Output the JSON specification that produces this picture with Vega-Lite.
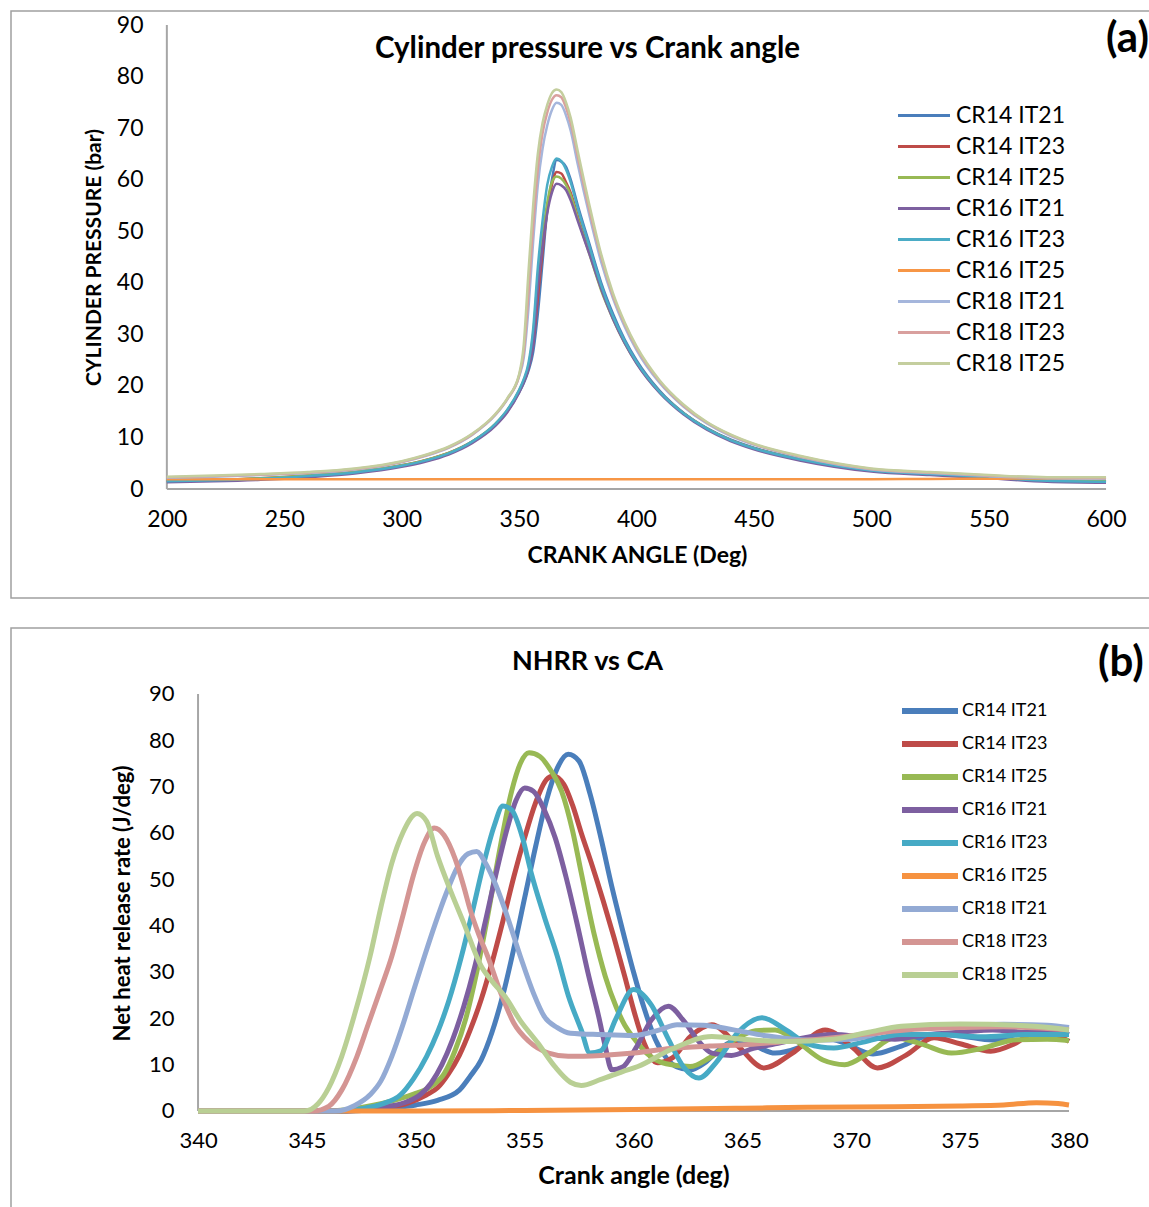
{
  "$schema": "https://vega.github.io/schema/vega-lite/v6.json",
  "padding": {"left": 10, "top": 10, "right": 0, "bottom": 0},
  "background": "white",
  "spacing": 28,
  "resolve": {"scale": {"color": "independent"}, "legend": {"color": "independent"}},
  "config": {
    "view": {"stroke": "#a0a0a0", "strokeWidth": 1.5},
    "font": "Lato",
    "axis": {"grid": false, "ticks": false, "tickSize": 0, "domain": false, "labelFont": "Lato", "labelColor": "#000", "titleFont": "Lato", "titleColor": "#000", "titleFontWeight": "bold", "labelFlush": false},
    "legend": {"labelFont": "Lato", "labelColor": "#000", "padding": 0}
  },
  "datasets": {
    "top": [
      {"x":200,"CR14 IT21":1.5,"CR14 IT23":1.6,"CR14 IT25":1.6,"CR16 IT21":1.3,"CR16 IT23":1.5,"CR16 IT25":1.9,"CR18 IT21":2.2,"CR18 IT23":2.3,"CR18 IT25":2.4},
      {"x":220,"CR14 IT21":1.7,"CR14 IT23":1.8,"CR14 IT25":1.8,"CR16 IT21":1.5,"CR16 IT23":1.7,"CR16 IT25":1.9,"CR18 IT21":2.4,"CR18 IT23":2.5,"CR18 IT25":2.6},
      {"x":240,"CR14 IT21":2.0,"CR14 IT23":2.1,"CR14 IT25":2.1,"CR16 IT21":1.8,"CR16 IT23":2.0,"CR16 IT25":1.9,"CR18 IT21":2.7,"CR18 IT23":2.8,"CR18 IT25":2.9},
      {"x":260,"CR14 IT21":2.5,"CR14 IT23":2.6,"CR14 IT25":2.6,"CR16 IT21":2.3,"CR16 IT23":2.5,"CR16 IT25":1.9,"CR18 IT21":3.1,"CR18 IT23":3.2,"CR18 IT25":3.3},
      {"x":280,"CR14 IT21":3.2,"CR14 IT23":3.3,"CR14 IT25":3.3,"CR16 IT21":3.0,"CR16 IT23":3.2,"CR16 IT25":1.9,"CR18 IT21":3.8,"CR18 IT23":3.9,"CR18 IT25":4.0},
      {"x":300,"CR14 IT21":4.5,"CR14 IT23":4.6,"CR14 IT25":4.6,"CR16 IT21":4.3,"CR16 IT23":4.5,"CR16 IT25":1.9,"CR18 IT21":5.2,"CR18 IT23":5.3,"CR18 IT25":5.4},
      {"x":310,"CR14 IT21":5.5,"CR14 IT23":5.6,"CR14 IT25":5.6,"CR16 IT21":5.3,"CR16 IT23":5.5,"CR16 IT25":1.9,"CR18 IT21":6.4,"CR18 IT23":6.5,"CR18 IT25":6.6},
      {"x":320,"CR14 IT21":6.9,"CR14 IT23":7.0,"CR14 IT25":7.0,"CR16 IT21":6.7,"CR16 IT23":6.9,"CR16 IT25":1.9,"CR18 IT21":8.0,"CR18 IT23":8.1,"CR18 IT25":8.2},
      {"x":330,"CR14 IT21":9.1,"CR14 IT23":9.2,"CR14 IT25":9.2,"CR16 IT21":8.9,"CR16 IT23":9.2,"CR16 IT25":1.9,"CR18 IT21":10.5,"CR18 IT23":10.6,"CR18 IT25":10.7},
      {"x":340,"CR14 IT21":12.5,"CR14 IT23":12.6,"CR14 IT25":12.7,"CR16 IT21":12.3,"CR16 IT23":12.7,"CR16 IT25":1.9,"CR18 IT21":14.4,"CR18 IT23":14.5,"CR18 IT25":14.6},
      {"x":345,"CR14 IT21":15.1,"CR14 IT23":15.2,"CR14 IT25":15.3,"CR16 IT21":14.9,"CR16 IT23":15.4,"CR16 IT25":1.9,"CR18 IT21":17.4,"CR18 IT23":17.5,"CR18 IT25":17.6},
      {"x":350,"CR14 IT21":18.7,"CR14 IT23":18.9,"CR14 IT25":19.1,"CR16 IT21":18.7,"CR16 IT23":19.2,"CR16 IT25":1.9,"CR18 IT21":21.8,"CR18 IT23":22.0,"CR18 IT25":22.2},
      {"x":352,"CR14 IT21":20.5,"CR14 IT23":20.8,"CR14 IT25":21.1,"CR16 IT21":20.7,"CR16 IT23":21.3,"CR16 IT25":1.9,"CR18 IT21":25.5,"CR18 IT23":26.5,"CR18 IT25":28.0},
      {"x":354,"CR14 IT21":22.9,"CR14 IT23":23.4,"CR14 IT25":23.9,"CR16 IT21":23.4,"CR16 IT23":24.4,"CR16 IT25":1.9,"CR18 IT21":35,"CR18 IT23":38,"CR18 IT25":42},
      {"x":356,"CR14 IT21":26.5,"CR14 IT23":28,"CR14 IT25":30,"CR16 IT21":28,"CR16 IT23":31,"CR16 IT25":1.9,"CR18 IT21":48,"CR18 IT23":51,"CR18 IT25":55},
      {"x":358,"CR14 IT21":34,"CR14 IT23":37,"CR14 IT25":41,"CR16 IT21":39,"CR16 IT23":43,"CR16 IT25":1.9,"CR18 IT21":59,"CR18 IT23":62,"CR18 IT25":65},
      {"x":360,"CR14 IT21":44,"CR14 IT23":46,"CR14 IT25":49,"CR16 IT21":47,"CR16 IT23":52,"CR16 IT25":1.9,"CR18 IT21":66,"CR18 IT23":69,"CR18 IT25":71},
      {"x":362,"CR14 IT21":54,"CR14 IT23":54,"CR14 IT25":55.5,"CR16 IT21":53.5,"CR16 IT23":59,"CR16 IT25":1.9,"CR18 IT21":70.5,"CR18 IT23":73,"CR18 IT25":74.5},
      {"x":364,"CR14 IT21":60,"CR14 IT23":59,"CR14 IT25":59.5,"CR16 IT21":57.5,"CR16 IT23":62.5,"CR16 IT25":1.9,"CR18 IT21":73.5,"CR18 IT23":75.5,"CR18 IT25":76.8},
      {"x":366,"CR14 IT21":63.8,"CR14 IT23":61.5,"CR14 IT25":60.6,"CR16 IT21":59.2,"CR16 IT23":64.1,"CR16 IT25":1.9,"CR18 IT21":74.9,"CR18 IT23":76.4,"CR18 IT25":77.5},
      {"x":368,"CR14 IT21":63.5,"CR14 IT23":61.2,"CR14 IT25":60.2,"CR16 IT21":58.9,"CR16 IT23":63.6,"CR16 IT25":1.9,"CR18 IT21":74.5,"CR18 IT23":76,"CR18 IT25":77},
      {"x":370,"CR14 IT21":62.5,"CR14 IT23":59.5,"CR14 IT25":59,"CR16 IT21":58,"CR16 IT23":62,"CR16 IT25":1.9,"CR18 IT21":72.5,"CR18 IT23":74,"CR18 IT25":75},
      {"x":372,"CR14 IT21":60,"CR14 IT23":57.5,"CR14 IT25":57,"CR16 IT21":56,"CR16 IT23":59.5,"CR16 IT25":1.9,"CR18 IT21":69.5,"CR18 IT23":71,"CR18 IT25":72},
      {"x":375,"CR14 IT21":55,"CR14 IT23":53,"CR14 IT25":52.5,"CR16 IT21":52,"CR16 IT23":54.5,"CR16 IT25":1.9,"CR18 IT21":63,"CR18 IT23":64.5,"CR18 IT25":65.5},
      {"x":380,"CR14 IT21":47.5,"CR14 IT23":46,"CR14 IT25":45.5,"CR16 IT21":45.5,"CR16 IT23":47,"CR16 IT25":1.9,"CR18 IT21":53,"CR18 IT23":54,"CR18 IT25":55},
      {"x":385,"CR14 IT21":40,"CR14 IT23":39,"CR14 IT25":38.5,"CR16 IT21":38.8,"CR16 IT23":39.5,"CR16 IT25":1.9,"CR18 IT21":44,"CR18 IT23":45,"CR18 IT25":45.5},
      {"x":390,"CR14 IT21":34,"CR14 IT23":33.2,"CR14 IT25":33,"CR16 IT21":33,"CR16 IT23":33.5,"CR16 IT25":1.9,"CR18 IT21":37,"CR18 IT23":37.5,"CR18 IT25":38},
      {"x":395,"CR14 IT21":29,"CR14 IT23":28.5,"CR14 IT25":28.3,"CR16 IT21":28.3,"CR16 IT23":28.7,"CR16 IT25":1.9,"CR18 IT21":31.5,"CR18 IT23":32,"CR18 IT25":32.3},
      {"x":400,"CR14 IT21":25,"CR14 IT23":24.6,"CR14 IT25":24.5,"CR16 IT21":24.4,"CR16 IT23":24.7,"CR16 IT25":1.9,"CR18 IT21":27,"CR18 IT23":27.4,"CR18 IT25":27.7},
      {"x":410,"CR14 IT21":19,"CR14 IT23":18.8,"CR14 IT25":18.7,"CR16 IT21":18.6,"CR16 IT23":18.8,"CR16 IT25":1.9,"CR18 IT21":20.5,"CR18 IT23":20.8,"CR18 IT25":21},
      {"x":420,"CR14 IT21":14.8,"CR14 IT23":14.7,"CR14 IT25":14.7,"CR16 IT21":14.5,"CR16 IT23":14.7,"CR16 IT25":1.9,"CR18 IT21":16,"CR18 IT23":16.2,"CR18 IT25":16.4},
      {"x":430,"CR14 IT21":11.8,"CR14 IT23":11.7,"CR14 IT25":11.7,"CR16 IT21":11.5,"CR16 IT23":11.7,"CR16 IT25":1.9,"CR18 IT21":12.7,"CR18 IT23":12.9,"CR18 IT25":13.0},
      {"x":440,"CR14 IT21":9.6,"CR14 IT23":9.5,"CR14 IT25":9.5,"CR16 IT21":9.3,"CR16 IT23":9.5,"CR16 IT25":1.9,"CR18 IT21":10.3,"CR18 IT23":10.5,"CR18 IT25":10.6},
      {"x":450,"CR14 IT21":8.0,"CR14 IT23":7.9,"CR14 IT25":7.9,"CR16 IT21":7.7,"CR16 IT23":7.9,"CR16 IT25":1.9,"CR18 IT21":8.6,"CR18 IT23":8.7,"CR18 IT25":8.8},
      {"x":470,"CR14 IT21":5.8,"CR14 IT23":5.7,"CR14 IT25":5.7,"CR16 IT21":5.5,"CR16 IT23":5.7,"CR16 IT25":1.9,"CR18 IT21":6.2,"CR18 IT23":6.3,"CR18 IT25":6.4},
      {"x":500,"CR14 IT21":3.6,"CR14 IT23":3.6,"CR14 IT25":3.6,"CR16 IT21":3.4,"CR16 IT23":3.6,"CR16 IT25":1.9,"CR18 IT21":3.8,"CR18 IT23":3.9,"CR18 IT25":4.0},
      {"x":525,"CR14 IT21":2.9,"CR14 IT23":2.9,"CR14 IT25":2.9,"CR16 IT21":2.7,"CR16 IT23":2.9,"CR16 IT25":1.95,"CR18 IT21":3.1,"CR18 IT23":3.2,"CR18 IT25":3.3},
      {"x":550,"CR14 IT21":2.3,"CR14 IT23":2.3,"CR14 IT25":2.3,"CR16 IT21":2.1,"CR16 IT23":2.3,"CR16 IT25":2.0,"CR18 IT21":2.5,"CR18 IT23":2.6,"CR18 IT25":2.7},
      {"x":575,"CR14 IT21":1.6,"CR14 IT23":1.7,"CR14 IT25":1.7,"CR16 IT21":1.4,"CR16 IT23":1.6,"CR16 IT25":2.05,"CR18 IT21":2.1,"CR18 IT23":2.2,"CR18 IT25":2.3},
      {"x":600,"CR14 IT21":1.4,"CR14 IT23":1.5,"CR14 IT25":1.5,"CR16 IT21":1.2,"CR16 IT23":1.4,"CR16 IT25":2.2,"CR18 IT21":2.0,"CR18 IT23":2.1,"CR18 IT25":2.3}
    ],
    "nhrr": [
      {"s":"CR14 IT21","x":340,"y":0},{"s":"CR14 IT21","x":347,"y":0},{"s":"CR14 IT21","x":348,"y":0.3},{"s":"CR14 IT21","x":349,"y":0.7},{"s":"CR14 IT21","x":350,"y":1.3},{"s":"CR14 IT21","x":351,"y":2.3},{"s":"CR14 IT21","x":352,"y":4.5},{"s":"CR14 IT21","x":352.5,"y":7.5},{"s":"CR14 IT21","x":353,"y":11},{"s":"CR14 IT21","x":353.5,"y":17},{"s":"CR14 IT21","x":354,"y":25},{"s":"CR14 IT21","x":354.5,"y":35},{"s":"CR14 IT21","x":355,"y":46},{"s":"CR14 IT21","x":355.5,"y":57},{"s":"CR14 IT21","x":356,"y":67},{"s":"CR14 IT21","x":356.5,"y":74},{"s":"CR14 IT21","x":357,"y":77},{"s":"CR14 IT21","x":357.5,"y":75.5},{"s":"CR14 IT21","x":358,"y":68.5},{"s":"CR14 IT21","x":358.5,"y":59},{"s":"CR14 IT21","x":359,"y":48.5},{"s":"CR14 IT21","x":359.5,"y":39},{"s":"CR14 IT21","x":360,"y":30},{"s":"CR14 IT21","x":360.5,"y":22},{"s":"CR14 IT21","x":361,"y":15.5},{"s":"CR14 IT21","x":361.5,"y":11.5},{"s":"CR14 IT21","x":362,"y":9.5},{"s":"CR14 IT21","x":362.6,"y":8.9},{"s":"CR14 IT21","x":363.3,"y":10.5},{"s":"CR14 IT21","x":364,"y":13.5},{"s":"CR14 IT21","x":364.7,"y":15.2},{"s":"CR14 IT21","x":365.5,"y":14.2},{"s":"CR14 IT21","x":366.5,"y":12.5},{"s":"CR14 IT21","x":367.5,"y":13.5},{"s":"CR14 IT21","x":368.5,"y":16},{"s":"CR14 IT21","x":369.5,"y":15},{"s":"CR14 IT21","x":371,"y":12.3},{"s":"CR14 IT21","x":372.3,"y":14},{"s":"CR14 IT21","x":373.8,"y":16.5},{"s":"CR14 IT21","x":375,"y":16.2},{"s":"CR14 IT21","x":376.5,"y":15.3},{"s":"CR14 IT21","x":378,"y":17},{"s":"CR14 IT21","x":379,"y":17.2},{"s":"CR14 IT21","x":380,"y":16.5},

      {"s":"CR14 IT23","x":340,"y":0},{"s":"CR14 IT23","x":346.5,"y":0},{"s":"CR14 IT23","x":347.5,"y":0.3},{"s":"CR14 IT23","x":348.5,"y":0.8},{"s":"CR14 IT23","x":349.5,"y":1.5},{"s":"CR14 IT23","x":350.5,"y":3.5},{"s":"CR14 IT23","x":351,"y":5},{"s":"CR14 IT23","x":351.5,"y":8},{"s":"CR14 IT23","x":352,"y":12},{"s":"CR14 IT23","x":352.5,"y":17.5},{"s":"CR14 IT23","x":353,"y":24},{"s":"CR14 IT23","x":353.5,"y":32},{"s":"CR14 IT23","x":354,"y":41},{"s":"CR14 IT23","x":354.5,"y":50.5},{"s":"CR14 IT23","x":355,"y":59},{"s":"CR14 IT23","x":355.5,"y":66.5},{"s":"CR14 IT23","x":356,"y":71.5},{"s":"CR14 IT23","x":356.3,"y":72.3},{"s":"CR14 IT23","x":356.8,"y":70.5},{"s":"CR14 IT23","x":357.2,"y":66},{"s":"CR14 IT23","x":357.6,"y":60},{"s":"CR14 IT23","x":358.1,"y":53},{"s":"CR14 IT23","x":358.6,"y":45.5},{"s":"CR14 IT23","x":359.1,"y":37.5},{"s":"CR14 IT23","x":359.6,"y":29},{"s":"CR14 IT23","x":360,"y":21.9},{"s":"CR14 IT23","x":360.5,"y":14.5},{"s":"CR14 IT23","x":361.1,"y":10.4},{"s":"CR14 IT23","x":361.8,"y":11.5},{"s":"CR14 IT23","x":362.6,"y":16},{"s":"CR14 IT23","x":363.6,"y":18.6},{"s":"CR14 IT23","x":364.8,"y":14},{"s":"CR14 IT23","x":366,"y":9.3},{"s":"CR14 IT23","x":367.3,"y":12.5},{"s":"CR14 IT23","x":368.8,"y":17.5},{"s":"CR14 IT23","x":370,"y":14},{"s":"CR14 IT23","x":371.2,"y":9.3},{"s":"CR14 IT23","x":372.5,"y":12},{"s":"CR14 IT23","x":373.8,"y":15.8},{"s":"CR14 IT23","x":375,"y":14.5},{"s":"CR14 IT23","x":376.4,"y":12.9},{"s":"CR14 IT23","x":377.5,"y":14.5},{"s":"CR14 IT23","x":378.4,"y":16.8},{"s":"CR14 IT23","x":379.3,"y":16.5},{"s":"CR14 IT23","x":380,"y":15},

      {"s":"CR14 IT25","x":340,"y":0},{"s":"CR14 IT25","x":346,"y":0},{"s":"CR14 IT25","x":347,"y":0.4},{"s":"CR14 IT25","x":348,"y":1.2},{"s":"CR14 IT25","x":349,"y":2.3},{"s":"CR14 IT25","x":350,"y":3.8},{"s":"CR14 IT25","x":350.7,"y":5.3},{"s":"CR14 IT25","x":351.3,"y":8},{"s":"CR14 IT25","x":351.8,"y":13},{"s":"CR14 IT25","x":352.3,"y":20},{"s":"CR14 IT25","x":352.8,"y":30},{"s":"CR14 IT25","x":353.3,"y":42},{"s":"CR14 IT25","x":353.8,"y":55},{"s":"CR14 IT25","x":354.4,"y":69},{"s":"CR14 IT25","x":354.8,"y":75},{"s":"CR14 IT25","x":355.2,"y":77.3},{"s":"CR14 IT25","x":355.7,"y":76.5},{"s":"CR14 IT25","x":356.2,"y":73.5},{"s":"CR14 IT25","x":356.7,"y":69},{"s":"CR14 IT25","x":357.2,"y":60.5},{"s":"CR14 IT25","x":357.6,"y":51.4},{"s":"CR14 IT25","x":358.2,"y":38},{"s":"CR14 IT25","x":358.7,"y":29.1},{"s":"CR14 IT25","x":359.2,"y":22.5},{"s":"CR14 IT25","x":359.6,"y":18.5},{"s":"CR14 IT25","x":360,"y":15.8},{"s":"CR14 IT25","x":360.6,"y":12.5},{"s":"CR14 IT25","x":361.5,"y":10.2},{"s":"CR14 IT25","x":362.6,"y":9.6},{"s":"CR14 IT25","x":363.5,"y":11.5},{"s":"CR14 IT25","x":364.7,"y":15.5},{"s":"CR14 IT25","x":365.6,"y":17.3},{"s":"CR14 IT25","x":366.5,"y":17.5},{"s":"CR14 IT25","x":367.5,"y":15},{"s":"CR14 IT25","x":368.7,"y":11},{"s":"CR14 IT25","x":369.7,"y":10},{"s":"CR14 IT25","x":370.8,"y":12.5},{"s":"CR14 IT25","x":372,"y":15.8},{"s":"CR14 IT25","x":373.2,"y":14.5},{"s":"CR14 IT25","x":374.6,"y":12.5},{"s":"CR14 IT25","x":376,"y":13.5},{"s":"CR14 IT25","x":377.6,"y":15.4},{"s":"CR14 IT25","x":379,"y":15.5},{"s":"CR14 IT25","x":380,"y":15.2},

      {"s":"CR16 IT21","x":340,"y":0},{"s":"CR16 IT21","x":346.8,"y":0},{"s":"CR16 IT21","x":347.8,"y":0.3},{"s":"CR16 IT21","x":348.8,"y":1},{"s":"CR16 IT21","x":349.6,"y":2},{"s":"CR16 IT21","x":350.2,"y":3.5},{"s":"CR16 IT21","x":350.7,"y":6},{"s":"CR16 IT21","x":351.2,"y":10},{"s":"CR16 IT21","x":351.7,"y":15.5},{"s":"CR16 IT21","x":352.2,"y":22.5},{"s":"CR16 IT21","x":352.7,"y":31},{"s":"CR16 IT21","x":353.2,"y":41},{"s":"CR16 IT21","x":353.7,"y":51.5},{"s":"CR16 IT21","x":354.2,"y":61},{"s":"CR16 IT21","x":354.6,"y":67},{"s":"CR16 IT21","x":355,"y":69.7},{"s":"CR16 IT21","x":355.4,"y":69},{"s":"CR16 IT21","x":355.9,"y":65},{"s":"CR16 IT21","x":356.4,"y":59},{"s":"CR16 IT21","x":356.9,"y":50.5},{"s":"CR16 IT21","x":357.4,"y":40.6},{"s":"CR16 IT21","x":357.9,"y":30},{"s":"CR16 IT21","x":358.4,"y":20.4},{"s":"CR16 IT21","x":358.7,"y":14},{"s":"CR16 IT21","x":359,"y":8.9},{"s":"CR16 IT21","x":359.5,"y":9.5},{"s":"CR16 IT21","x":360.1,"y":13.5},{"s":"CR16 IT21","x":360.8,"y":19.5},{"s":"CR16 IT21","x":361.6,"y":22.6},{"s":"CR16 IT21","x":362.3,"y":19.5},{"s":"CR16 IT21","x":363,"y":15},{"s":"CR16 IT21","x":363.6,"y":12.5},{"s":"CR16 IT21","x":364.5,"y":12},{"s":"CR16 IT21","x":365.5,"y":13.5},{"s":"CR16 IT21","x":366.5,"y":14.5},{"s":"CR16 IT21","x":367.5,"y":15.5},{"s":"CR16 IT21","x":369.2,"y":16.5},{"s":"CR16 IT21","x":370.5,"y":16},{"s":"CR16 IT21","x":372,"y":15.5},{"s":"CR16 IT21","x":373.5,"y":16.5},{"s":"CR16 IT21","x":375,"y":17},{"s":"CR16 IT21","x":376.5,"y":17.5},{"s":"CR16 IT21","x":378,"y":17},{"s":"CR16 IT21","x":379,"y":17},{"s":"CR16 IT21","x":380,"y":16.5},

      {"s":"CR16 IT23","x":340,"y":0},{"s":"CR16 IT23","x":346.5,"y":0},{"s":"CR16 IT23","x":347.5,"y":0.5},{"s":"CR16 IT23","x":348.5,"y":1.6},{"s":"CR16 IT23","x":349.3,"y":3.5},{"s":"CR16 IT23","x":349.9,"y":7},{"s":"CR16 IT23","x":350.5,"y":11.8},{"s":"CR16 IT23","x":351,"y":17},{"s":"CR16 IT23","x":351.5,"y":23.5},{"s":"CR16 IT23","x":352.1,"y":33.4},{"s":"CR16 IT23","x":352.6,"y":43},{"s":"CR16 IT23","x":353.1,"y":53},{"s":"CR16 IT23","x":353.6,"y":61.5},{"s":"CR16 IT23","x":354,"y":65.8},{"s":"CR16 IT23","x":354.4,"y":65},{"s":"CR16 IT23","x":354.9,"y":59},{"s":"CR16 IT23","x":355.3,"y":51.4},{"s":"CR16 IT23","x":355.9,"y":42},{"s":"CR16 IT23","x":356.5,"y":33.4},{"s":"CR16 IT23","x":357,"y":25},{"s":"CR16 IT23","x":357.6,"y":17.5},{"s":"CR16 IT23","x":358,"y":12.5},{"s":"CR16 IT23","x":358.5,"y":13},{"s":"CR16 IT23","x":359.2,"y":20},{"s":"CR16 IT23","x":360,"y":26.2},{"s":"CR16 IT23","x":360.8,"y":23},{"s":"CR16 IT23","x":361.6,"y":15.5},{"s":"CR16 IT23","x":362.3,"y":9.5},{"s":"CR16 IT23","x":363,"y":7.1},{"s":"CR16 IT23","x":363.8,"y":10.5},{"s":"CR16 IT23","x":364.8,"y":17},{"s":"CR16 IT23","x":365.9,"y":20.1},{"s":"CR16 IT23","x":367,"y":17.5},{"s":"CR16 IT23","x":368,"y":14.5},{"s":"CR16 IT23","x":369.2,"y":13.6},{"s":"CR16 IT23","x":370.5,"y":14.8},{"s":"CR16 IT23","x":372.3,"y":16.5},{"s":"CR16 IT23","x":374,"y":16.5},{"s":"CR16 IT23","x":376,"y":16},{"s":"CR16 IT23","x":378,"y":16.5},{"s":"CR16 IT23","x":380,"y":16.5},

      {"s":"CR16 IT25","x":340,"y":0},{"s":"CR16 IT25","x":350,"y":0},{"s":"CR16 IT25","x":355,"y":0.1},{"s":"CR16 IT25","x":360,"y":0.3},{"s":"CR16 IT25","x":365,"y":0.6},{"s":"CR16 IT25","x":368,"y":0.8},{"s":"CR16 IT25","x":372,"y":0.9},{"s":"CR16 IT25","x":375,"y":1.1},{"s":"CR16 IT25","x":377,"y":1.3},{"s":"CR16 IT25","x":378.5,"y":1.8},{"s":"CR16 IT25","x":379.5,"y":1.6},{"s":"CR16 IT25","x":380,"y":1.3},

      {"s":"CR18 IT21","x":340,"y":0},{"s":"CR18 IT21","x":346.3,"y":0},{"s":"CR18 IT21","x":347.2,"y":1.2},{"s":"CR18 IT21","x":347.9,"y":3.5},{"s":"CR18 IT21","x":348.4,"y":6.5},{"s":"CR18 IT21","x":348.9,"y":11.8},{"s":"CR18 IT21","x":349.4,"y":18.5},{"s":"CR18 IT21","x":349.9,"y":26},{"s":"CR18 IT21","x":350.4,"y":33.4},{"s":"CR18 IT21","x":350.9,"y":40.5},{"s":"CR18 IT21","x":351.4,"y":47},{"s":"CR18 IT21","x":351.9,"y":52.5},{"s":"CR18 IT21","x":352.4,"y":55.5},{"s":"CR18 IT21","x":352.8,"y":56},{"s":"CR18 IT21","x":353.2,"y":53.5},{"s":"CR18 IT21","x":353.7,"y":48.5},{"s":"CR18 IT21","x":354.1,"y":43.4},{"s":"CR18 IT21","x":354.8,"y":33.4},{"s":"CR18 IT21","x":355.4,"y":25.5},{"s":"CR18 IT21","x":355.9,"y":20.4},{"s":"CR18 IT21","x":356.5,"y":18},{"s":"CR18 IT21","x":357.1,"y":16.8},{"s":"CR18 IT21","x":358.5,"y":16.5},{"s":"CR18 IT21","x":360,"y":16.3},{"s":"CR18 IT21","x":361.2,"y":17.5},{"s":"CR18 IT21","x":362,"y":18.6},{"s":"CR18 IT21","x":363.2,"y":18.5},{"s":"CR18 IT21","x":364.6,"y":17.5},{"s":"CR18 IT21","x":366,"y":16.3},{"s":"CR18 IT21","x":368,"y":15.3},{"s":"CR18 IT21","x":370,"y":15.5},{"s":"CR18 IT21","x":372.3,"y":18},{"s":"CR18 IT21","x":375,"y":18.5},{"s":"CR18 IT21","x":377,"y":18.7},{"s":"CR18 IT21","x":379,"y":18.5},{"s":"CR18 IT21","x":380,"y":18},

      {"s":"CR18 IT23","x":340,"y":0},{"s":"CR18 IT23","x":345.3,"y":0},{"s":"CR18 IT23","x":346,"y":1},{"s":"CR18 IT23","x":346.6,"y":4.5},{"s":"CR18 IT23","x":347.3,"y":11.8},{"s":"CR18 IT23","x":347.8,"y":18.5},{"s":"CR18 IT23","x":348.4,"y":26.5},{"s":"CR18 IT23","x":348.9,"y":33.4},{"s":"CR18 IT23","x":349.4,"y":42},{"s":"CR18 IT23","x":349.9,"y":51},{"s":"CR18 IT23","x":350.4,"y":58},{"s":"CR18 IT23","x":350.85,"y":61.1},{"s":"CR18 IT23","x":351.3,"y":59.5},{"s":"CR18 IT23","x":351.8,"y":54.5},{"s":"CR18 IT23","x":352.2,"y":48.5},{"s":"CR18 IT23","x":352.5,"y":43.4},{"s":"CR18 IT23","x":352.9,"y":38},{"s":"CR18 IT23","x":353.3,"y":33.4},{"s":"CR18 IT23","x":353.9,"y":25.5},{"s":"CR18 IT23","x":354.5,"y":19},{"s":"CR18 IT23","x":355.2,"y":15},{"s":"CR18 IT23","x":356.1,"y":12.5},{"s":"CR18 IT23","x":357,"y":11.8},{"s":"CR18 IT23","x":358.5,"y":12},{"s":"CR18 IT23","x":360,"y":12.5},{"s":"CR18 IT23","x":361.7,"y":13.5},{"s":"CR18 IT23","x":363.5,"y":14},{"s":"CR18 IT23","x":365.1,"y":14.3},{"s":"CR18 IT23","x":366.5,"y":14.8},{"s":"CR18 IT23","x":368.5,"y":15.5},{"s":"CR18 IT23","x":370.5,"y":16.5},{"s":"CR18 IT23","x":372.5,"y":17.5},{"s":"CR18 IT23","x":375,"y":18},{"s":"CR18 IT23","x":377,"y":18.2},{"s":"CR18 IT23","x":379,"y":17.8},{"s":"CR18 IT23","x":380,"y":17.5},

      {"s":"CR18 IT25","x":340,"y":0},{"s":"CR18 IT25","x":344.9,"y":0},{"s":"CR18 IT25","x":345.5,"y":1.5},{"s":"CR18 IT25","x":346,"y":5},{"s":"CR18 IT25","x":346.6,"y":11.8},{"s":"CR18 IT25","x":347.2,"y":21},{"s":"CR18 IT25","x":347.9,"y":33.4},{"s":"CR18 IT25","x":348.4,"y":44},{"s":"CR18 IT25","x":348.9,"y":53.5},{"s":"CR18 IT25","x":349.4,"y":60},{"s":"CR18 IT25","x":350.06,"y":64.2},{"s":"CR18 IT25","x":350.5,"y":62.5},{"s":"CR18 IT25","x":351,"y":55},{"s":"CR18 IT25","x":351.6,"y":47.5},{"s":"CR18 IT25","x":352.2,"y":40.6},{"s":"CR18 IT25","x":353,"y":31.3},{"s":"CR18 IT25","x":353.5,"y":28},{"s":"CR18 IT25","x":354.1,"y":24.7},{"s":"CR18 IT25","x":354.8,"y":19.5},{"s":"CR18 IT25","x":355.6,"y":14.7},{"s":"CR18 IT25","x":356.4,"y":9.5},{"s":"CR18 IT25","x":357.1,"y":6.2},{"s":"CR18 IT25","x":357.6,"y":5.5},{"s":"CR18 IT25","x":358.5,"y":6.8},{"s":"CR18 IT25","x":359.5,"y":8.5},{"s":"CR18 IT25","x":360.2,"y":9.6},{"s":"CR18 IT25","x":361.7,"y":13.2},{"s":"CR18 IT25","x":363.6,"y":16.1},{"s":"CR18 IT25","x":365,"y":15.5},{"s":"CR18 IT25","x":367,"y":15},{"s":"CR18 IT25","x":369.2,"y":15.5},{"s":"CR18 IT25","x":370.8,"y":17},{"s":"CR18 IT25","x":372.3,"y":18.3},{"s":"CR18 IT25","x":375,"y":18.8},{"s":"CR18 IT25","x":378.4,"y":18.3},{"s":"CR18 IT25","x":380,"y":17.5}
    ]
  },
  "vconcat": [
    {
      "width": 1139,
      "height": 587,
      "title": {"text": "Cylinder pressure vs Crank angle", "font": "Lato", "fontSize": 29.5, "fontWeight": "bold", "color": "#000", "anchor": "middle", "offset": -53, "dx": 7},
      "layer": [
        {
          "data": {"values": [{}]},
          "mark": {"type": "rule", "color": "#a6a6a6", "strokeWidth": 2},
          "encoding": {
            "x": {"datum": 200, "type": "quantitative", "scale": {"domain": [133.62, 618.72], "nice": false, "zero": false}},
            "y": {"datum": 0, "type": "quantitative", "scale": {"domain": [-21.14, 92.72], "nice": false, "zero": false}},
            "y2": {"datum": 90}
          }
        },
        {
          "data": {"values": [{}]},
          "mark": {"type": "rule", "color": "#a6a6a6", "strokeWidth": 2},
          "encoding": {
            "x": {"datum": 200, "type": "quantitative", "scale": {"domain": [133.62, 618.72], "nice": false, "zero": false}},
            "x2": {"datum": 600},
            "y": {"datum": 0, "type": "quantitative", "scale": {"domain": [-21.14, 92.72], "nice": false, "zero": false}}
          }
        },
        {
          "data": {"name": "top"},
          "transform": [{"fold": ["CR14 IT21","CR14 IT23","CR14 IT25","CR16 IT21","CR16 IT23","CR16 IT25","CR18 IT21","CR18 IT23","CR18 IT25"], "as": ["series", "p"]}],
          "mark": {"type": "line", "strokeWidth": 2.5, "interpolate": "monotone"},
          "encoding": {
            "x": {"field": "x", "type": "quantitative", "scale": {"domain": [133.62, 618.72], "nice": false, "zero": false},
                  "axis": {"values": [200,250,300,350,400,450,500,550,600], "title": "CRANK ANGLE (Deg)", "offset": -109, "labelFontSize": 23, "labelPadding": 19, "titleFontSize": 23, "titlePadding": 13, "titleX": 626}},
            "y": {"field": "p", "type": "quantitative", "scale": {"domain": [-21.14, 92.72], "nice": false, "zero": false},
                  "axis": {"values": [0,10,20,30,40,50,60,70,80,90], "title": "CYLINDER PRESSURE (bar)", "offset": -156, "labelFontSize": 23, "labelPadding": 24, "titleFontSize": 21, "titlePadding": 12, "titleY": 246}},
            "color": {"field": "series", "type": "nominal",
                      "scale": {"domain": ["CR14 IT21","CR14 IT23","CR14 IT25","CR16 IT21","CR16 IT23","CR16 IT25","CR18 IT21","CR18 IT23","CR18 IT25"],
                                "range": ["#4A7EBB","#BE4B48","#98B954","#7D60A0","#4BACC6","#F79646","#A5B6DC","#D9A09E","#C4CE9E"]},
                      "legend": {"orient": "none", "legendX": 901.5, "legendY": 93, "title": null, "symbolType": "M-4,0H4", "symbolSize": 169, "symbolStrokeWidth": 3, "labelFontSize": 23, "labelOffset": 20.5, "rowPadding": 7}}
          }
        },
        {
          "data": {"values": [{}]},
          "mark": {"type": "text", "text": "(a)", "font": "Lato", "fontSize": 42, "fontWeight": "bold", "align": "left", "baseline": "middle", "color": "#000", "clip": true},
          "encoding": {
            "x": {"datum": 600, "type": "quantitative", "scale": {"domain": [133.62, 618.72], "nice": false, "zero": false}},
            "y": {"datum": 87.3, "type": "quantitative", "scale": {"domain": [-21.14, 92.72], "nice": false, "zero": false}}
          }
        }
      ]
    },
    {
      "width": 1139,
      "height": 582,
      "title": {"text": "NHRR vs CA", "font": "Lato", "fontSize": 27, "fontWeight": "bold", "color": "#000", "anchor": "middle", "offset": -48, "dx": 7},
      "layer": [
        {
          "data": {"values": [{}]},
          "mark": {"type": "rule", "color": "#a6a6a6", "strokeWidth": 2},
          "encoding": {
            "x": {"datum": 340, "type": "quantitative", "scale": {"domain": [331.41, 383.72], "nice": false, "zero": false}},
            "y": {"datum": 0, "type": "quantitative", "scale": {"domain": [-21.37, 104.24], "nice": false, "zero": false}},
            "y2": {"datum": 90}
          }
        },
        {
          "data": {"values": [{}]},
          "mark": {"type": "rule", "color": "#a6a6a6", "strokeWidth": 2},
          "encoding": {
            "x": {"datum": 340, "type": "quantitative", "scale": {"domain": [331.41, 383.72], "nice": false, "zero": false}},
            "x2": {"datum": 380},
            "y": {"datum": 0, "type": "quantitative", "scale": {"domain": [-21.37, 104.24], "nice": false, "zero": false}}
          }
        },
        {
          "data": {"name": "nhrr"},
          "mark": {"type": "line", "strokeWidth": 5, "interpolate": "monotone"},
          "encoding": {
            "x": {"field": "x", "type": "quantitative", "scale": {"domain": [331.41, 383.72], "nice": false, "zero": false},
                  "axis": {"values": [340,345,350,355,360,365,370,375,380], "title": "Crank angle (deg)", "offset": -99, "labelFontSize": 22, "labelPadding": 19, "titleFontSize": 25, "titlePadding": 12, "titleX": 622.5}},
            "y": {"field": "y", "type": "quantitative", "scale": {"domain": [-21.37, 104.24], "nice": false, "zero": false},
                  "axis": {"values": [0,10,20,30,40,50,60,70,80,90], "title": "Net heat release rate (J/deg)", "offset": -187, "labelFontSize": 22, "labelPadding": 24, "titleFontSize": 22, "titlePadding": 14, "titleY": 275}},
            "color": {"field": "s", "type": "nominal",
                      "scale": {"domain": ["CR14 IT21","CR14 IT23","CR14 IT25","CR16 IT21","CR16 IT23","CR16 IT25","CR18 IT21","CR18 IT23","CR18 IT25"],
                                "range": ["#4A7EBB","#BE4B48","#98B954","#7D5FA0","#46AAC5","#F69240","#93AAD4","#D49593","#B9CF94"]},
                      "legend": {"orient": "none", "legendX": 909, "legendY": 73, "title": null, "symbolType": "M-4,0H4", "symbolSize": 196, "symbolStrokeWidth": 6, "labelFontSize": 18, "labelOffset": 22, "rowPadding": 9}}
          }
        },
        {
          "data": {"values": [{}]},
          "mark": {"type": "text", "text": "(b)", "font": "Lato", "fontSize": 42, "fontWeight": "bold", "align": "left", "baseline": "middle", "color": "#000", "clip": true},
          "encoding": {
            "x": {"datum": 381.33, "type": "quantitative", "scale": {"domain": [331.41, 383.72], "nice": false, "zero": false}},
            "y": {"datum": 96.7, "type": "quantitative", "scale": {"domain": [-21.37, 104.24], "nice": false, "zero": false}}
          }
        }
      ]
    }
  ]
}
